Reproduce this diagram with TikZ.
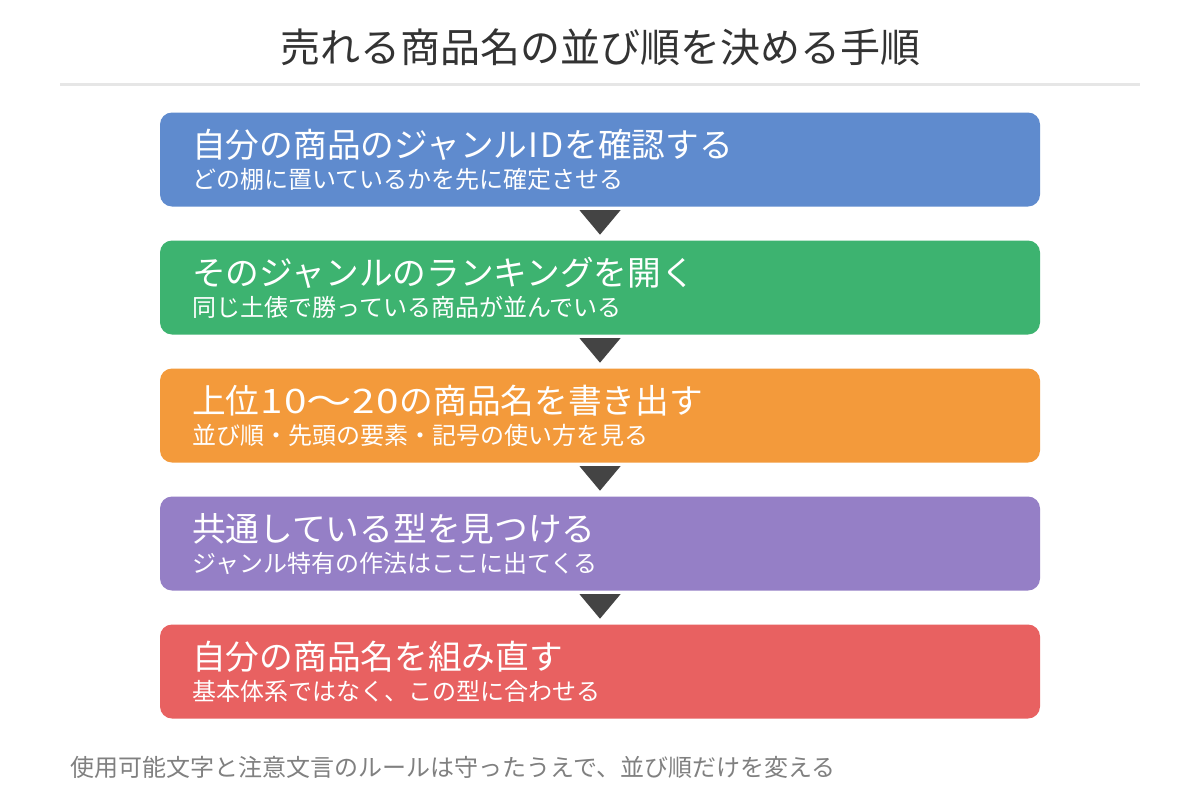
\documentclass[tikz,border=0pt]{standalone}
\usepackage{fontspec}
\usepackage{graphicx}
\newfontfamily\jp{Noto Sans CJK JP}
\usetikzlibrary{calc}
\definecolor{cblue}{RGB}{95,139,206}
\definecolor{cgreen}{RGB}{61,179,112}
\definecolor{corange}{RGB}{243,154,59}
\definecolor{cpurple}{RGB}{149,127,198}
\definecolor{cred}{RGB}{232,97,97}
\definecolor{tri}{RGB}{68,68,68}
\definecolor{rulegray}{RGB}{230,230,230}
\definecolor{titlegray}{RGB}{51,51,51}
\definecolor{footgray}{RGB}{128,128,128}
\newcommand\wbox[2]{\makebox[#1pt][c]{#2}}
\tikzset{
  stepbox/.style={rectangle, rounded corners=12pt, minimum width=880pt, minimum height=94pt, inner sep=0pt, draw=none},
  headtxt/.style={anchor=base west, inner sep=0pt, text=white, font=\jp\fontsize{33.7}{40}\selectfont},
  subtxt/.style={anchor=base west, inner sep=0pt, text=white, font=\jp\fontsize{24}{28}\selectfont},
  arrowtri/.style={fill=tri, draw=none},
}
\begin{document}
\begin{tikzpicture}[x=1pt,y=-1pt]
\useasboundingbox (0,0) rectangle (1200,806);
\fill[white] (0,0) rectangle (1200,806);
% title
\node[anchor=base, inner sep=0pt, text=titlegray, font=\jp\fontsize{40}{48}\selectfont] (title) at (600,62.5) {売れる商品名の並び順を決める手順};
\coordinate (rl) at (60,84);
\coordinate (rr) at (1140,84);
\draw[rulegray, line width=3pt] (rl) -- (rr);
% boxes
\node[stepbox, fill=cblue] (b1) at (600,159.5) {};
\node[stepbox, fill=cgreen] (b2) at (600,287.5) {};
\node[stepbox, fill=corange] (b3) at (600,415.5) {};
\node[stepbox, fill=cpurple] (b4) at (600,543.5) {};
\node[stepbox, fill=cred] (b5) at (600,671.5) {};
% texts
\node[headtxt] (h1) at (192,157) {自分の商品のジャンル\wbox{12}{I}\wbox{25}{D}を確認する};
\node[subtxt] (s1) at (192,188) {どの棚に置いているかを先に確定させる};
\node[headtxt] (h2) at (192,285) {そのジャンルのランキングを開く};
\node[subtxt] (s2) at (192,316) {同じ土俵で勝っている商品が並んでいる};
\node[headtxt] (h3) at (192,413) {上位\wbox{24}{\scalebox{1.2}[1]{1}}\wbox{24}{\scalebox{1.2}[1]{0}}\wbox{44}{\scalebox{1.35}[1]{〜}}\wbox{24}{\scalebox{1.2}[1]{2}}\wbox{24}{\scalebox{1.2}[1]{0}}の商品名を書き出す};
\node[subtxt] (s3) at (192,444) {並び順・先頭の要素・記号の使い方を見る};
\node[headtxt] (h4) at (192,541) {共通している型を見つける};
\node[subtxt] (s4) at (192,572) {ジャンル特有の作法はここに出てくる};
\node[headtxt] (h5) at (192,669) {自分の商品名を組み直す};
\node[subtxt] (s5) at (192,700) {基本体系ではなく、この型に合わせる};
% triangles
\foreach \a in {b1,b2,b3,b4}{
  \fill[arrowtri] ($(\a.south)+(-20.5,3.5)$) -- ($(\a.south)+(20.5,3.5)$) -- ($(\a.south)+(0,28)$) -- cycle;
}
% footer
\node[anchor=base west, inner sep=0pt, text=footgray, font=\jp\fontsize{24}{28}\selectfont] (foot) at (70,776) {使用可能文字と注意文言のルールは守ったうえで、並び順だけを変える};
\end{tikzpicture}
\end{document}
